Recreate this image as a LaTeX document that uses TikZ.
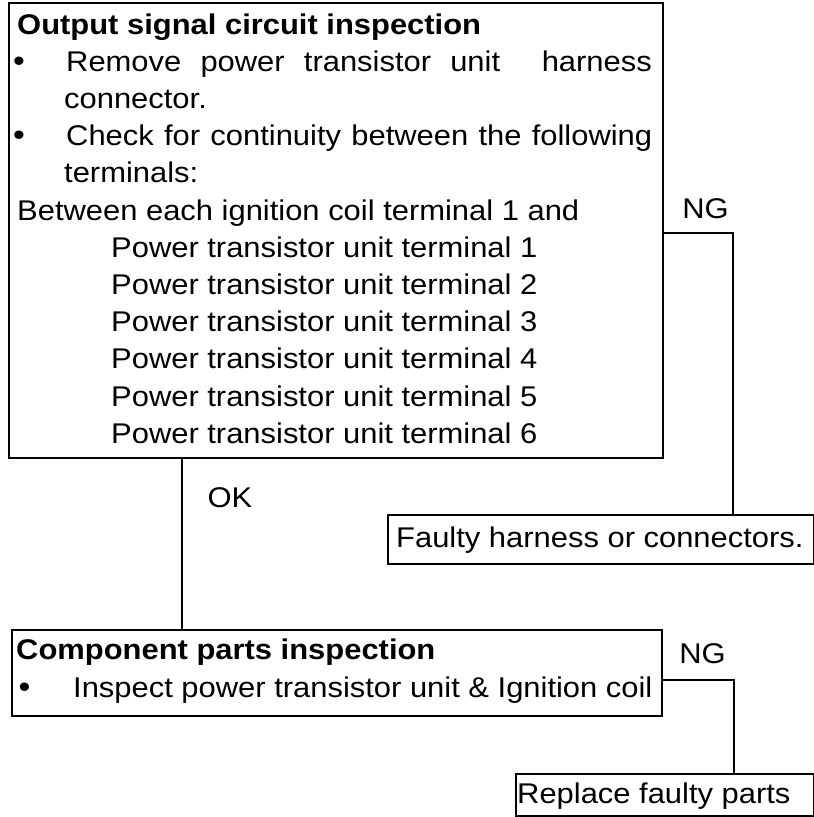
\documentclass[tikz,border=0pt]{standalone}
\usepackage{fontspec}
\setmainfont{Liberation Sans}[FakeStretch=1.085]
\newcommand{\myfs}{\fontsize{28.5}{37.2}\selectfont}
\newcommand{\bulfs}{\fontsize{31}{37.2}\selectfont}
\begin{document}
\begin{tikzpicture}[x=1pt,y=-1pt,
  box/.style={draw, line width=1.8pt, inner sep=0pt, anchor=north west},
  txt/.style={inner sep=0pt, anchor=base west, font=\myfs},
  btxt/.style={inner sep=0pt, anchor=base west, font=\myfs\bfseries},
  bul/.style={inner sep=0pt, anchor=base, font=\bulfs},
  lbl/.style={inner sep=0pt, anchor=base, font=\myfs},
  conn/.style={line width=1.8pt}]
\useasboundingbox (0,0) rectangle (814,817);
\fill[white] (0,0) rectangle (814,817);

% boxes
\node[box, minimum width=654pt, minimum height=455pt] (b1) at (8,2) {};
\node[box, minimum width=650pt, minimum height=86pt] (b2) at (11,629) {};
\node[box, minimum width=426pt, minimum height=49pt] (fault) at (387,514) {};
\node[box, minimum width=298pt, minimum height=42pt] (b3) at (515,773) {};

% box 1 text
\node[btxt] (t1) at (17,34) {Output signal circuit inspection};
\node[bul] (bu1) at (19,71.2) {•};
\node[txt] (t2) at (66,71.2) {\makebox[434pt][s]{Remove power transistor unit}};
\node[txt, anchor=base east] (t2b) at (652,71.2) {harness};
\node[txt] (t3) at (64,108.4) {connector.};
\node[bul] (bu2) at (19,145.6) {•};
\node[txt] (t4) at (66,145.6) {\makebox[586pt][s]{Check for continuity between the following}};
\node[txt] (t5) at (64,182.8) {terminals:};
\node[txt] (t6) at (17,220) {Between each ignition coil terminal 1 and};
\foreach \i in {1,...,6}
  \node[txt] (p\i) at (111,{220+37.2*\i}) {Power transistor unit terminal \i};

% box 2 text
\node[btxt] (u1) at (16,659) {Component parts inspection};
\node[bul] (bu3) at (24.5,697) {•};
\node[txt] (u2) at (73,697) {Inspect power transistor unit \& Ignition coil};

% result boxes text
\node[txt] (f1) at (396,547) {Faulty harness or connectors.};
\node[txt] (r1) at (517,803) {Replace faulty parts};

% connectors
\coordinate (c1) at (733,233);
\coordinate (c2) at (182,0);
\coordinate (c3) at (734,680);
\draw[conn] (b1.east |- c1) -| (fault.north -| c1);
\draw[conn] (b1.south -| c2) -- (b2.north -| c2);
\draw[conn] (b2.east |- c3) -| (b3.north -| c3);

% labels
\node[lbl] (ng1) at (705.5,218) {NG};
\node[lbl] (ok) at (230,507) {OK};
\node[lbl] (ng2) at (702.5,663) {NG};
\end{tikzpicture}
\end{document}
